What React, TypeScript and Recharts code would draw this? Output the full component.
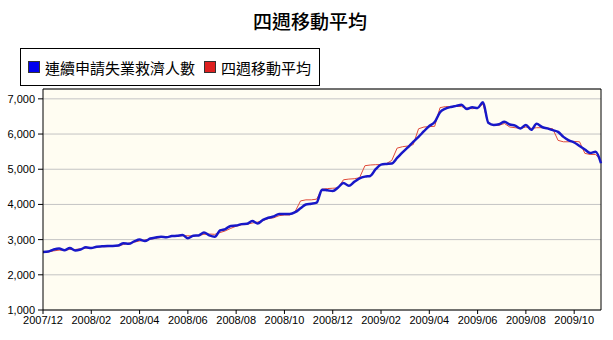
import { CartesianGrid, Line, LineChart, ReferenceLine, XAxis, YAxis } from "recharts";

// 連續申請失業救濟人數 (thousands), weekly points
const CLAIMS = [
  2650, 2660, 2720, 2750, 2700, 2760, 2690, 2720, 2780, 2760,
  2800, 2810, 2820, 2820, 2830, 2900, 2880, 2950, 3000, 2960,
  3030, 3060, 3080, 3070, 3100, 3110, 3130, 3040, 3110, 3120,
  3200, 3120, 3080, 3260, 3300, 3390, 3400, 3440, 3450, 3530,
  3460, 3560, 3620, 3660, 3730, 3730, 3730, 3780, 3890, 4000,
  4020, 4050, 4420, 4400, 4380, 4480, 4610, 4530, 4640, 4740,
  4790, 4810, 5000, 5130, 5150, 5160, 5320, 5480, 5620, 5780,
  5920, 6080, 6230, 6340, 6620, 6720, 6770, 6800, 6830, 6710,
  6760, 6740, 6900, 6320, 6260, 6280, 6350, 6270, 6240, 6160,
  6260, 6120, 6290, 6200, 6160, 6110, 6060, 5920, 5820, 5760,
  5660, 5560, 5460, 5500, 5170,
];

// 四週移動平均
const AVERAGE = [
  2640, 2650, 2680, 2700, 2700, 2720, 2720, 2740, 2760, 2770,
  2790, 2800, 2800, 2810, 2820, 2860, 2900, 2930, 2960, 2990,
  3010, 3040, 3060, 3080, 3090, 3100, 3110, 3110, 3100, 3120,
  3150, 3160, 3150, 3200, 3250, 3320, 3380, 3420, 3440, 3470,
  3500, 3540, 3600, 3620, 3680, 3700, 3700, 3800, 4100, 4130,
  4130, 4150, 4430, 4450, 4460, 4470, 4700, 4720, 4730, 4760,
  5100, 5120, 5130, 5130, 5160, 5250, 5600, 5640, 5660, 5700,
  6150, 6200, 6210, 6220, 6750, 6780, 6780, 6790, 6780, 6740,
  6720, 6740, 6850, 6300, 6250, 6250, 6300, 6200, 6180, 6160,
  6200, 6160, 6180, 6180, 6170, 6150, 5820, 5780, 5780, 5790,
  5780, 5450, 5420, 5420, 5250,
];

const TICK_WEEKS = [0, 9, 18, 27, 36, 45, 54, 63, 72, 81, 90, 99];
const TICK_LABELS = [
  "2007/12", "2008/02", "2008/04", "2008/06", "2008/08", "2008/10",
  "2008/12", "2009/02", "2009/04", "2009/06", "2009/08", "2009/10",
];
const Y_TICKS = [1000, 2000, 3000, 4000, 5000, 6000, 7000];
const Y_MIN = 1000;
const Y_MAX = 7280;

const data = CLAIMS.map((claims, week) => ({ week, claims, avg: AVERAGE[week] }));
const lastWeek = CLAIMS.length - 1;

const axisFont = { fontSize: 11, fill: "#000", fontFamily: "'Liberation Sans', Arial, sans-serif" };
const cjk = "'Noto Sans CJK TC', 'Noto Sans CJK SC', sans-serif";

export default function App() {
  return (
    <div style={{ position: "fixed", left: 0, top: 0, width: 613, height: 340, background: "#fff" }}>
      <div
        style={{
          position: "absolute", left: 0, top: 7, width: 620, textAlign: "center",
          fontFamily: cjk, fontSize: 19, fontWeight: 500, color: "#000",
        }}
      >
        四週移動平均
      </div>
      <div
        style={{
          position: "absolute", left: 20, top: 48, width: 298, height: 36,
          border: "1px solid #000", display: "flex", alignItems: "center",
          fontFamily: cjk, fontSize: 15, color: "#000", boxSizing: "content-box",
        }}
      >
        <span style={{ width: 10, height: 10, background: "#0000ee", border: "1px solid #333", marginLeft: 7, marginRight: 5 }} />
        <span>連續申請失業救濟人數</span>
        <span style={{ width: 10, height: 10, background: "#dd2020", border: "1px solid #333", marginLeft: 9, marginRight: 5 }} />
        <span>四週移動平均</span>
      </div>
      <LineChart
        width={613}
        height={340}
        data={data}
        margin={{ top: 89, right: 12, left: 3, bottom: 0 }}
        style={{ position: "absolute", left: 0, top: 0 }}
      >
        <CartesianGrid vertical={false} stroke="#c4c4c4" fill="#fffdf2" />
        <XAxis
          dataKey="week"
          type="number"
          domain={[0, lastWeek]}
          ticks={TICK_WEEKS}
          tickFormatter={(w) => TICK_LABELS[TICK_WEEKS.indexOf(w)] ?? ""}
          tick={axisFont}
          tickSize={4}
          tickMargin={2}
          height={30}
          stroke="#000"
          interval={0}
        />
        <YAxis
          type="number"
          domain={[Y_MIN, Y_MAX]}
          ticks={Y_TICKS}
          tickFormatter={(v) => v.toLocaleString("en-US")}
          tick={axisFont}
          tickSize={5}
          tickMargin={3}
          width={40}
          stroke="#000"
          allowDataOverflow
        />
        <ReferenceLine y={Y_MAX} stroke="#000" />
        <ReferenceLine x={lastWeek} stroke="#000" />
        <Line
          type="linear"
          dataKey="avg"
          name="四週移動平均"
          stroke="#e04a3a"
          strokeWidth={1}
          dot={false}
          isAnimationActive={false}
        />
        <Line
          type="monotone"
          dataKey="claims"
          name="連續申請失業救濟人數"
          stroke="#1818c8"
          strokeWidth={2.5}
          dot={false}
          isAnimationActive={false}
        />
      </LineChart>
    </div>
  );
}
